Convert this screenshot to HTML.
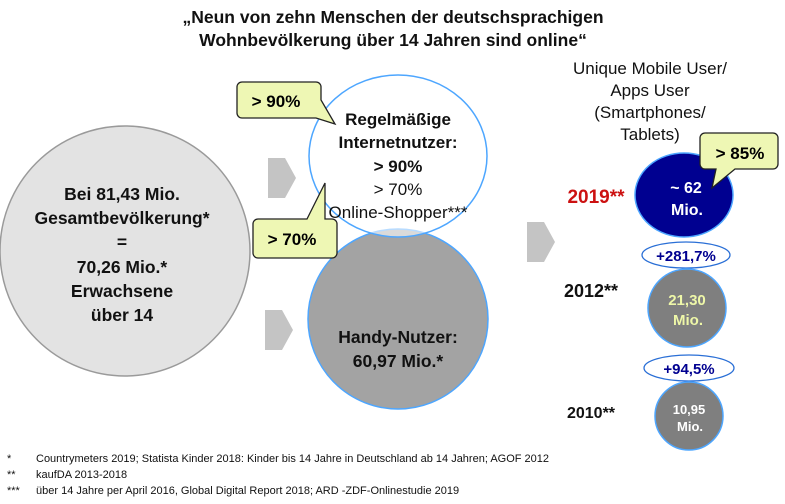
<!DOCTYPE html>
<html><head><meta charset="utf-8"><style>
body{margin:0;background:#fff;width:785px;height:499px;overflow:hidden}
svg text{font-family:"Liberation Sans",sans-serif}
</style></head><body>
<svg width="785" height="499" viewBox="0 0 785 499">
<g font-weight="bold" font-size="17.5" text-anchor="middle" fill="#111">
<text x="393" y="23">„Neun von zehn Menschen der deutschsprachigen</text>
<text x="393" y="46">Wohnbevölkerung über 14 Jahren sind online“</text>
</g>
<circle cx="125" cy="251" r="125" fill="#e3e3e3" stroke="#9a9a9a" stroke-width="1.5"/>
<g font-weight="bold" font-size="17.5" text-anchor="middle" fill="#111">
<text x="122" y="200">Bei 81,43 Mio.</text>
<text x="122" y="224">Gesamtbevölkerung*</text>
<text x="122" y="248">=</text>
<text x="122" y="273">70,26 Mio.*</text>
<text x="122" y="297">Erwachsene</text>
<text x="122" y="321">über 14</text>
</g>
<g fill="#c4c4c4">
<polygon points="268,158 285,158 296,178 285,198 268,198"/>
<polygon points="265,310 282,310 293,330 282,350 265,350"/>
<polygon points="527,222 544,222 555,242 544,262 527,262"/>
</g>
<circle cx="398" cy="319" r="90" fill="#a3a3a3" stroke="#4da6ff" stroke-width="1.5"/>
<ellipse cx="398" cy="156" rx="89" ry="81" fill="#fff" fill-opacity="0.6" stroke="#4da6ff" stroke-width="1.5"/>
<g font-size="17" text-anchor="middle" fill="#111">
<text x="398" y="125" font-weight="bold">Regelmäßige</text>
<text x="398" y="148" font-weight="bold">Internetnutzer:</text>
<text x="398" y="172" font-weight="bold">&gt; 90%</text>
<text x="398" y="195">&gt; 70%</text>
<text x="398" y="218">Online-Shopper***</text>
</g>
<g font-weight="bold" font-size="17.5" text-anchor="middle" fill="#111">
<text x="398" y="343">Handy-Nutzer:</text>
<text x="398" y="367">60,97 Mio.*</text>
</g>
<g>
<path d="M242,82 H316 a5,5 0 0 1 5,5 V100 L335,124 L316,118 H242 a5,5 0 0 1 -5,-5 V87 a5,5 0 0 1 5,-5 Z" fill="#eef7b4" stroke="#222" stroke-width="1.3"/>
<text x="276" y="107" font-weight="bold" font-size="17" text-anchor="middle">&gt; 90%</text>
</g>
<g>
<path d="M258,219 H307 L325,183 V219 H332 a5,5 0 0 1 5,5 V253 a5,5 0 0 1 -5,5 H258 a5,5 0 0 1 -5,-5 V224 a5,5 0 0 1 5,-5 Z" fill="#eef7b4" stroke="#222" stroke-width="1.3"/>
<text x="292" y="245" font-weight="bold" font-size="17" text-anchor="middle">&gt; 70%</text>
</g>
<g font-size="17" text-anchor="middle" fill="#111">
<text x="650" y="74">Unique Mobile User/</text>
<text x="650" y="96">Apps User</text>
<text x="650" y="118">(Smartphones/</text>
<text x="650" y="140">Tablets)</text>
</g>
<ellipse cx="684" cy="195" rx="49" ry="42" fill="#000090" stroke="#4da6ff" stroke-width="1.5"/>
<g font-weight="bold" font-size="16" text-anchor="middle" fill="#fff"><text x="686" y="193">~ 62</text><text x="687" y="215">Mio.</text></g>
<g>
<path d="M705,133 H773 a5,5 0 0 1 5,5 V164 a5,5 0 0 1 -5,5 H735 L712,188 L716,169 H705 a5,5 0 0 1 -5,-5 V138 a5,5 0 0 1 5,-5 Z" fill="#eef7b4" stroke="#222" stroke-width="1.3"/>
<text x="740" y="159" font-weight="bold" font-size="17" text-anchor="middle">&gt; 85%</text>
</g>
<text x="596" y="203" font-weight="bold" font-size="19" fill="#cc1111" text-anchor="middle">2019**</text>
<ellipse cx="686" cy="255" rx="44" ry="13" fill="#fff" stroke="#2a6fd6" stroke-width="1.3"/>
<text x="686" y="261" font-weight="bold" font-size="15" fill="#000090" text-anchor="middle">+281,7%</text>
<circle cx="687" cy="308" r="39" fill="#7f7f7f" stroke="#4da6ff" stroke-width="1.5"/>
<g font-weight="bold" font-size="15" text-anchor="middle" fill="#eef7a8"><text x="687" y="305">21,30</text><text x="688" y="325">Mio.</text></g>
<text x="591" y="297" font-weight="bold" font-size="18" fill="#111" text-anchor="middle">2012**</text>
<ellipse cx="689" cy="368" rx="45" ry="13" fill="#fff" stroke="#2a6fd6" stroke-width="1.3"/>
<text x="689" y="374" font-weight="bold" font-size="15" fill="#000090" text-anchor="middle">+94,5%</text>
<circle cx="689" cy="416" r="34" fill="#7f7f7f" stroke="#4da6ff" stroke-width="1.5"/>
<g font-weight="bold" font-size="13" text-anchor="middle" fill="#fff"><text x="689" y="414">10,95</text><text x="690" y="431">Mio.</text></g>
<text x="591" y="418" font-weight="bold" font-size="16" fill="#111" text-anchor="middle">2010**</text>
<g font-size="11" fill="#111">
<text x="7" y="462">*</text><text x="36" y="462">Countrymeters 2019; Statista Kinder 2018: Kinder bis 14 Jahre in Deutschland ab 14 Jahren; AGOF 2012</text>
<text x="7" y="478">**</text><text x="36" y="478">kaufDA 2013-2018</text>
<text x="7" y="494">***</text><text x="36" y="494">über 14 Jahre per April 2016, Global Digital Report 2018; ARD  -ZDF-Onlinestudie 2019</text>
</g>
</svg>
</body></html>
